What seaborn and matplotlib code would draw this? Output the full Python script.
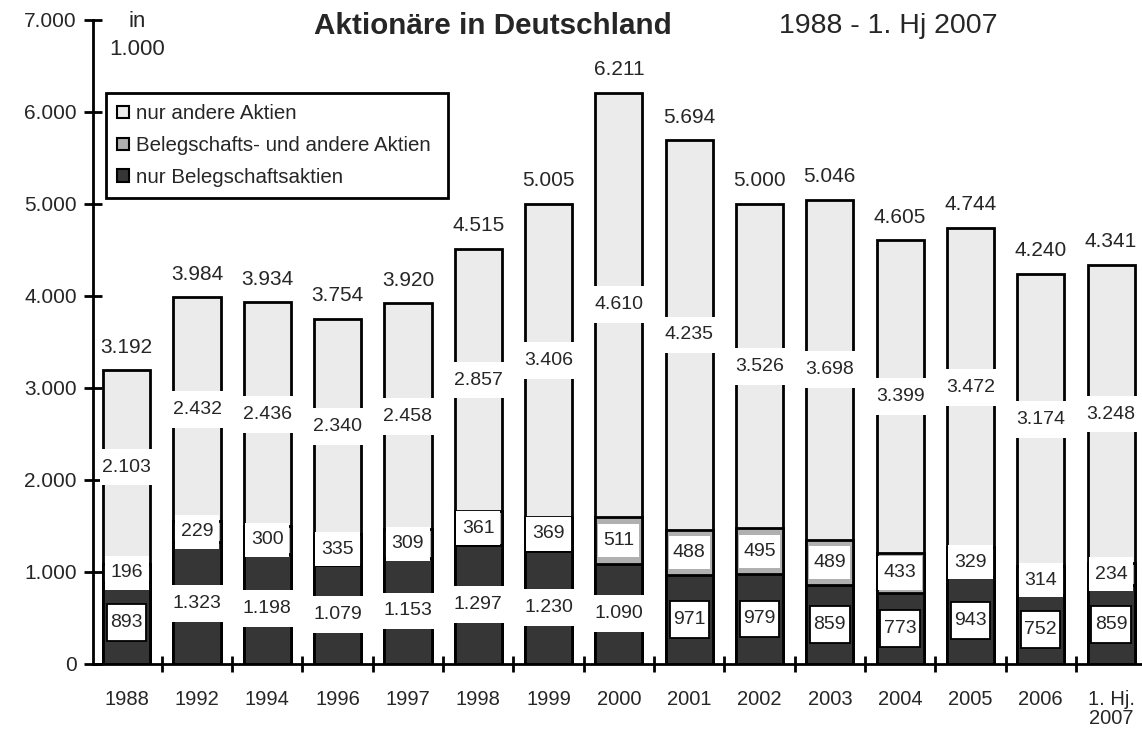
import matplotlib
matplotlib.use("Agg")
import matplotlib.pyplot as plt
import seaborn as sns
import pandas as pd
import numpy as np
from matplotlib.patches import Patch, Rectangle

years = ["1988", "1992", "1994", "1996", "1997", "1998", "1999", "2000",
         "2001", "2002", "2003", "2004", "2005", "2006", "1. Hj.\n2007"]
nur_beleg = [893, 1323, 1198, 1079, 1153, 1297, 1230, 1090, 971, 979, 859, 773, 943, 752, 859]
beleg_und_andere = [196, 229, 300, 335, 309, 361, 369, 511, 488, 495, 489, 433, 329, 314, 234]
nur_andere = [2103, 2432, 2436, 2340, 2458, 2857, 3406, 4610, 4235, 3526, 3698, 3399, 3472, 3174, 3248]
totals = [3192, 3984, 3934, 3754, 3920, 4515, 5005, 6211, 5694, 5000, 5046, 4605, 4744, 4240, 4341]
ytick_vals = [0, 1000, 2000, 3000, 4000, 5000, 6000, 7000]
ytick_labels = ["0", "1.000", "2.000", "3.000", "4.000", "5.000", "6.000", "7.000"]
# which bottom labels sit in a framed box (others interrupt the bar)
boxed_bottom = [True, False, False, False, False, False, False, False,
                True, True, True, True, True, True, True]
# middle labels drawn as inset box showing grey frame
inset_mid = [False, False, False, False, False, False, False, True,
             True, True, True, False, False, False, False]

def de(v):
    return f"{v:,}".replace(",", ".")

c_light = "#ebebeb"
c_mid = "#b0b0b0"
c_dark = "#363636"

sns.set_theme(style="white")
plt.rcParams['font.family'] = ['Liberation Sans', 'DejaVu Sans']

df = pd.DataFrame({
    "year": years,
    "bottom": nur_beleg,
    "mid": np.array(nur_beleg) + np.array(beleg_und_andere),
    "total": np.array(nur_beleg) + np.array(beleg_und_andere) + np.array(nur_andere),
})

fig = plt.figure(figsize=(11.42, 7.34), dpi=100)
ax = fig.add_axes([0.0814, 0.0954, 0.9186, 0.8774])

BW = 0.67
kw = dict(data=df, x="year", order=years, width=BW, edgecolor="black",
          linewidth=2.0, ax=ax, saturation=1)
sns.barplot(y="total", color=c_light, **kw)
sns.barplot(y="mid", color=c_mid, **kw)
sns.barplot(y="bottom", color=c_dark, **kw)

fs = 14
H = 400  # label box height in data units


def box(i, yc, w, h, ec="none", lw=0):
    ax.add_patch(Rectangle((i - w / 2, yc - h / 2), w, h, facecolor="white",
                           edgecolor=ec, linewidth=lw, zorder=4))


for i in range(len(years)):
    b = nur_beleg[i]; m = beleg_und_andere[i]; a = nur_andere[i]
    # bottom label
    yb = b / 2
    if boxed_bottom[i]:
        box(i, yb, 0.56, H, ec="black", lw=1.3)
    else:
        box(i, yb, 0.76, H)
    ax.text(i, yb, de(b), ha="center", va="center", fontsize=fs, zorder=5)
    # middle label
    ym = b + m / 2
    if inset_mid[i]:
        box(i, ym, 0.58, 360)
    else:
        box(i, ym, BW - 0.04, 370)
    ax.text(i, ym, de(m), ha="center", va="center", fontsize=fs, zorder=5)
    # top label
    yt = b + m + a / 2
    box(i, yt, 0.76, H)
    ax.text(i, yt, de(a), ha="center", va="center", fontsize=fs, zorder=5)
    # total
    ax.text(i, totals[i] + 250, de(totals[i]), ha="center", va="center",
            fontsize=15, zorder=5)

ax.set_ylim(0, 7000)
ax.set_xlim(-0.48, 14.44)
ax.set_yticks(ytick_vals)
ax.set_yticklabels(ytick_labels, fontsize=15)
ax.set_xticks(range(len(years)))
ax.set_xticklabels(years, fontsize=14.5, va="top", linespacing=1.0)
ax.set_xticks(np.arange(len(years) - 1) + 0.5, minor=True)
ax.tick_params(axis="x", which="major", length=0, pad=19)
ax.tick_params(axis="x", which="minor", length=11, width=2, direction="inout",
               bottom=True, color="black")
ax.tick_params(axis="y", length=13, width=2, direction="inout", left=True,
               color="black", pad=5)
ax.set_xlabel("")
ax.set_ylabel("")
for s in ["top", "right"]:
    ax.spines[s].set_visible(False)
for s in ["left", "bottom"]:
    ax.spines[s].set_color("black")
    ax.spines[s].set_linewidth(2.0)

fig.text(0.12, 0.971, "in", fontsize=16, ha="center", va="center")
fig.text(0.12, 0.933, "1.000", fontsize=16, ha="center", va="center")
fig.text(0.432, 0.965, "Aktionäre in Deutschland", fontsize=21.3, fontweight="bold",
         ha="center", va="center")
fig.text(0.778, 0.965, "1988 - 1. Hj 2007", fontsize=20.5, ha="center", va="center")

handles = [Patch(facecolor=c_light, edgecolor="black", lw=1.5, label="nur andere Aktien"),
           Patch(facecolor=c_mid, edgecolor="black", lw=1.5, label="Belegschafts- und andere Aktien "),
           Patch(facecolor=c_dark, edgecolor="black", lw=1.5, label="nur Belegschaftsaktien")]
leg = ax.legend(handles=handles, loc="upper left", bbox_to_anchor=(0.0124, 0.8866),
                borderaxespad=0, fontsize=14.8, fancybox=False, framealpha=1,
                edgecolor="black", handlelength=0.55, handleheight=0.55,
                handletextpad=0.35, labelspacing=0.62, borderpad=0.55)
leg.get_frame().set_linewidth(2.0)

fig.savefig("out.png", dpi=100)
